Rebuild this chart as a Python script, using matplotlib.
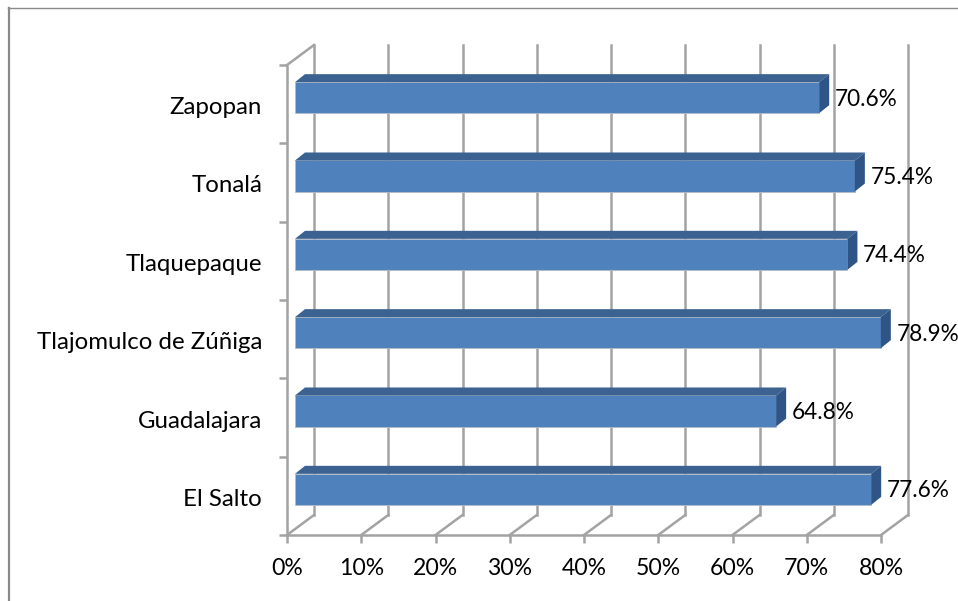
import matplotlib
matplotlib.use('Agg')
import matplotlib.pyplot as plt
from matplotlib.patches import Polygon
from matplotlib.transforms import Affine2D
from matplotlib.lines import Line2D

categories = ['El Salto', 'Guadalajara', 'Tlajomulco de Zúñiga', 'Tlaquepaque', 'Tonalá', 'Zapopan']
values = [77.6, 64.8, 78.9, 74.4, 75.4, 70.6]
xticks = [0, 10, 20, 30, 40, 50, 60, 70, 80]

W, H = 958, 601
GRID = '#a3a3a3'
FRONT = '#4f81bd'
TOP = '#3b6291'
SIDE = '#2f5587'
BAR_H = 0.396

plt.rcParams['font.family'] = ['Lato', 'DejaVu Sans']

fig = plt.figure(figsize=(W / 100, H / 100), dpi=100)
# axes = front plane of the fake 3d chart, pixel box from the picture
ax = fig.add_axes([287 / W, (H - 535) / H, (881 - 287) / W, (535 - 65) / H])
ax.set_xlim(0, 80)
ax.set_ylim(-0.5, 5.5)
ax.patch.set_visible(False)
for s in ['top', 'right']:
    ax.spines[s].set_visible(False)
for s in ['left', 'bottom']:
    ax.spines[s].set_color(GRID)
    ax.spines[s].set_linewidth(1.8)


def shifted(dx, dy):
    # data coords moved by some pixels (y up)
    return ax.transData + Affine2D().translate(dx, dy)


# back wall and floor lines
for t in xticks:
    ax.plot([t, t], [-0.5, 5.5], color=GRID, lw=1.8, transform=shifted(27, 20), clip_on=False, zorder=1)
    fig.add_artist(Line2D([ax.transData.transform((t, 0))[0], ax.transData.transform((t, 0))[0] + 27],
                          [H - 535, H - 515], color=GRID, lw=1.8, transform=None, zorder=1))
fig.add_artist(Line2D([287, 314], [H - 65, H - 45], color=GRID, lw=1.8, transform=None, zorder=1))

# bars
for i, (c, v) in enumerate(zip(categories, values)):
    tr = shifted(8, 6.5)
    y0, y1 = i - BAR_H / 2, i + BAR_H / 2
    ax.add_patch(Polygon([(0, y0), (v, y0), (v, y1), (0, y1)], closed=True, fc=FRONT, ec='#b4bcc6', lw=0.6,
                         transform=tr, clip_on=False, zorder=3))
    px0 = ax.transData.transform((0, y1)) + (8, 6.5)
    px1 = ax.transData.transform((v, y1)) + (8, 6.5)
    px2 = ax.transData.transform((v, y0)) + (8, 6.5)
    ax.add_patch(Polygon([px0, px1, px1 + (10, 8), px0 + (10, 8)], closed=True, fc=TOP, ec='none',
                         transform=None, clip_on=False, zorder=3))
    ax.add_patch(Polygon([px1, px2, px2 + (10, 8), px1 + (10, 8)], closed=True, fc=SIDE, ec='none',
                         transform=None, clip_on=False, zorder=3))
    ax.text(v, i, f'{v}%', fontsize=16.3, color='black', va='center', ha='left',
            transform=shifted(23.5, 5), clip_on=False, zorder=4)

ax.set_xticks(xticks)
ax.set_xticklabels([f'{t}%' for t in xticks], fontsize=16.6)
ax.tick_params(axis='x', color=GRID, width=1.8, length=5.8, pad=11)
ax.set_yticks(range(len(categories)))
ax.set_yticklabels(categories, fontsize=17.3)
ax.tick_params(axis='y', which='major', length=0, pad=18)
ax.set_yticks([i - 0.5 for i in range(7)], minor=True)
ax.tick_params(axis='y', which='minor', color=GRID, width=1.8, length=5.8)
for lab in ax.get_yticklabels():
    lab.set_transform(lab.get_transform() + Affine2D().translate(0, -1.5))

# outer frame, only top and left are visible in the picture
fig.add_artist(Line2D([9, 9], [0, H - 8], color='#8a8a8a', lw=1.6, transform=None))
fig.add_artist(Line2D([8, W], [H - 8, H - 8], color='#8a8a8a', lw=1.0, transform=None))

fig.savefig('out.png', dpi=100)
